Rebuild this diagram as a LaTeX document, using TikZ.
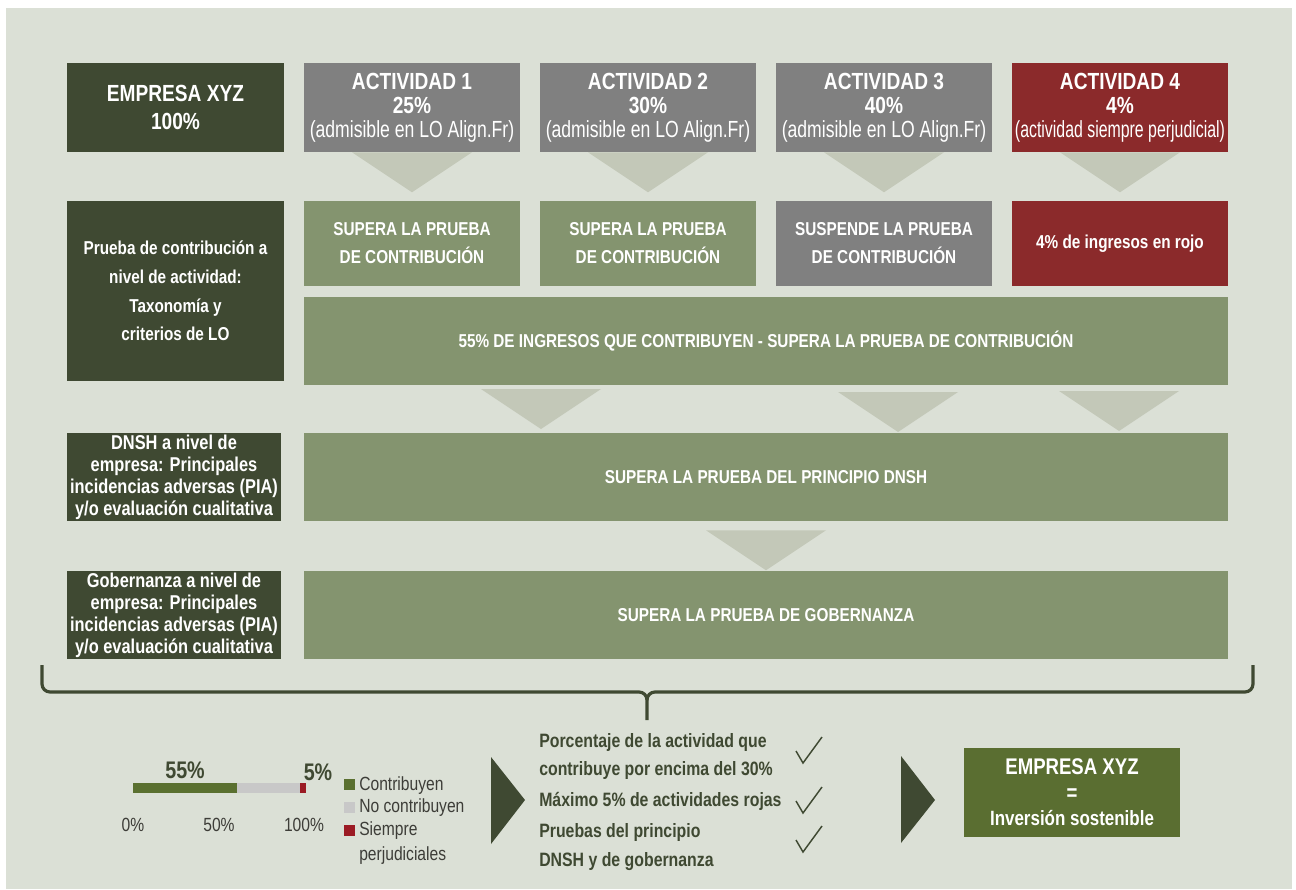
\documentclass[tikz,border=0pt]{standalone}
\usepackage{fontspec}
\setmainfont{Liberation Sans}[FakeStretch=0.82]
\usetikzlibrary{calc}
\definecolor{bg}{HTML}{DBE0D6}
\definecolor{dkgreen}{HTML}{3F4932}
\definecolor{mdgreen}{HTML}{84946F}
\definecolor{actgray}{HTML}{808080}
\definecolor{actred}{HTML}{8B2A2B}
\definecolor{trigray}{HTML}{C3C8B8}
\definecolor{fingreen}{HTML}{5A6E31}
\definecolor{bargreen}{HTML}{5A7030}
\definecolor{bargray}{HTML}{C8C8C8}
\definecolor{barred}{HTML}{9B1B24}
\definecolor{legtext}{HTML}{3D3D38}
\newcommand{\paren}[2]{{\mdseries\scalebox{#1}[1]{#2}}}
\begin{document}
\begin{tikzpicture}[x=0.75pt,y=-0.75pt,
  box/.style={rectangle,inner sep=0pt,align=center,text=white},
  sz/.style 2 args={minimum width={#1*0.75pt},minimum height={#2*0.75pt}},
  topf/.style={font=\fontsize{17.5pt}{18pt}\selectfont\bfseries},
  empf/.style={font=\fontsize{17.5pt}{20.5pt}\selectfont\bfseries},
  midf/.style={font=\fontsize{14pt}{21pt}\selectfont\bfseries},
  leftf/.style={font=\fontsize{14pt}{21.5pt}\selectfont\bfseries},
  smallf/.style={font=\fontsize{15pt}{16.5pt}\selectfont\bfseries},
  botf/.style={font=\fontsize{14.5pt}{17pt}\selectfont\bfseries,text=dkgreen,anchor=base west,inner sep=0pt},
  legf/.style={font=\fontsize{14.3pt}{16pt}\selectfont,text=legtext,inner sep=0pt},
  tri/.style={fill=trigray},
  darrow/.style={fill=dkgreen},
  chk/.style={draw=dkgreen,line width=1.1pt,line join=miter},
  bracestyle/.style={draw=dkgreen,line width=2.4pt,line cap=butt}
]
\useasboundingbox (0,0) rectangle (1296,889);
\fill[white] (0,0) rectangle (1296,889);
\fill[bg] (6,8) rectangle (1292,889);

% top row
\node[box,fill=dkgreen,sz={217}{89},empf] (emp) at (175.5,107.5) {EMPRESA XYZ\\100\%};
\node[box,fill=actgray,sz={216}{89},topf] (a1) at (412,107.5) {ACTIVIDAD 1\\25\%\\\paren{0.92}{(admisible en LO Align.Fr)}};
\node[box,fill=actgray,sz={216}{89},topf] (a2) at (648,107.5) {ACTIVIDAD 2\\30\%\\\paren{0.92}{(admisible en LO Align.Fr)}};
\node[box,fill=actgray,sz={216}{89},topf] (a3) at (884,107.5) {ACTIVIDAD 3\\40\%\\\paren{0.92}{(admisible en LO Align.Fr)}};
\node[box,fill=actred,sz={216}{89},topf] (a4) at (1120,107.5) {ACTIVIDAD 4\\4\%\\\paren{0.83}{(actividad siempre perjudicial)}};

% triangles under top row
\foreach \n in {a1,a2,a3,a4}{
  \fill[tri] ($(\n.south)+(-60,0)$) -- ($(\n.south)+(60,0)$) -- ($(\n.south)+(0,40)$) -- cycle;
}

% second row
\node[box,fill=dkgreen,sz={217}{180},leftf] (pc) at (175.5,291) {Prueba de contribución a\\nivel de actividad:\\Taxonomía y\\criterios de LO};
\node[box,fill=mdgreen,sz={216}{85},midf] (s1) at (412,243.5) {SUPERA LA PRUEBA\\DE CONTRIBUCIÓN};
\node[box,fill=mdgreen,sz={216}{85},midf] (s2) at (648,243.5) {SUPERA LA PRUEBA\\DE CONTRIBUCIÓN};
\node[box,fill=actgray,sz={216}{85},midf] (s3) at (884,243.5) {SUSPENDE LA PRUEBA\\DE CONTRIBUCIÓN};
\node[box,fill=actred,sz={216}{85},midf] (s4) at (1120,243.5) {4\% de ingresos en rojo};
\node[box,fill=mdgreen,sz={924}{88},midf] (big) at (766,341) {55\% DE INGRESOS QUE CONTRIBUYEN - SUPERA LA PRUEBA DE CONTRIBUCIÓN};

% triangles under big box
\fill[tri] (481,389) -- (601,389) -- (541,429) -- cycle;
\fill[tri] (838,392) -- (958,392) -- (898,432) -- cycle;
\fill[tri] (1059,391) -- (1179,391) -- (1119,431) -- cycle;

% DNSH row
\node[box,fill=dkgreen,sz={214}{88},smallf] (dl) at (174,477) {DNSH a nivel de\\empresa: Principales\\incidencias adversas (PIA)\\y/o evaluación cualitativa};
\node[box,fill=mdgreen,sz={924}{88},midf] (dnsh) at (766,477) {SUPERA LA PRUEBA DEL PRINCIPIO DNSH};
\fill[tri] ($(dnsh.south)+(-60,9)$) -- ($(dnsh.south)+(60,9)$) -- ($(dnsh.south)+(0,49)$) -- cycle;

% Gobernanza row
\node[box,fill=dkgreen,sz={214}{88},smallf] (gl) at (174,615) {Gobernanza a nivel de\\empresa: Principales\\incidencias adversas (PIA)\\y/o evaluación cualitativa};
\node[box,fill=mdgreen,sz={924}{88},midf] (gob) at (766,615) {SUPERA LA PRUEBA DE GOBERNANZA};

% brace
\coordinate (bl) at (42,665);
\coordinate (br) at (1253,665);
\coordinate (bt) at (647,720);
\draw[bracestyle] (bl) -- (42,684) to[out=-90,in=180] (50,692) -- (639,692) to[out=0,in=90] (647,700) -- (bt);
\draw[bracestyle] (br) -- (1253,684) to[out=-90,in=0] (1245,692) -- (655,692) to[out=180,in=90] (647,700);

% bar chart
\fill[bargreen] (133,783) rectangle (237,793);
\fill[bargray] (237,783) rectangle (300,793);
\fill[barred] (300,783) rectangle (306,793);
\node[font=\fontsize{18pt}{20pt}\selectfont\bfseries,text=dkgreen,anchor=base,inner sep=0pt] (p55) at (185,778) {55\%};
\node[font=\fontsize{18pt}{20pt}\selectfont\bfseries,text=dkgreen,anchor=base,inner sep=0pt] (p5) at (318,780) {5\%};
\node[legf,anchor=base] (x0) at (133,831) {0\%};
\node[legf,anchor=base] (x50) at (219,831) {50\%};
\node[legf,anchor=base] (x100) at (304,831) {100\%};

% legend
\fill[bargreen] (344,779) rectangle (355,790);
\fill[bargray] (344,802) rectangle (355,813);
\fill[barred] (344,825) rectangle (355,836);
\node[legf,anchor=base west] (l1) at (359,790) {Contribuyen};
\node[legf,anchor=base west] (l2) at (359,812) {No contribuyen};
\node[legf,anchor=base west] (l3) at (359,835) {Siempre};
\node[legf,anchor=base west] (l4) at (359,860) {perjudiciales};

% dark arrows
\fill[darrow] (491,757) -- (525,800) -- (491,844) -- cycle;
\fill[darrow] (901,756) -- (935,800) -- (901,843) -- cycle;

% criteria text
\node[botf] (c1a) at (539,747) {Porcentaje de la actividad que};
\node[botf] (c1b) at (539,775) {contribuye por encima del 30\%};
\node[botf] (c2) at (539,806) {Máximo 5\% de actividades rojas};
\node[botf] (c3a) at (539,837) {Pruebas del principio};
\node[botf] (c3b) at (539,866) {DNSH y de gobernanza};

% check marks
\draw[chk] (796,751) -- (803,763) -- (822,737);
\draw[chk] (796,801) -- (803,813) -- (822,787);
\draw[chk] (796,840) -- (803,852) -- (822,826);

% final box
\node[box,fill=fingreen,sz={216}{89},font=\fontsize{17pt}{19pt}\selectfont\bfseries] (fin) at (1072,792.5) {EMPRESA XYZ\\=\\{\fontsize{15.5pt}{19pt}\selectfont Inversión sostenible}};
\end{tikzpicture}
\end{document}
